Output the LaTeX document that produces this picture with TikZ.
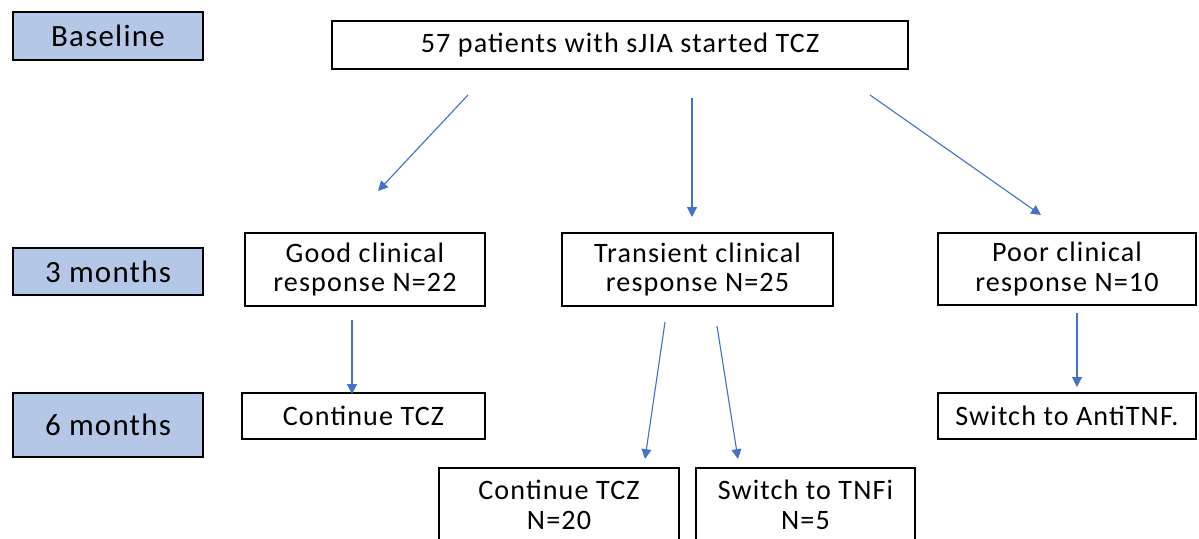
\documentclass[tikz,border=0pt]{standalone}
\usepackage{fontspec}
\setmainfont{Carlito}[LetterSpace=4]
\usepackage{tikz}
\usetikzlibrary{arrows.meta,positioning,calc}
\definecolor{stagefill}{RGB}{180, 199, 231}
\definecolor{arrowblue}{RGB}{68, 114, 196}
\tikzset{
    stagebox/.style={draw=black, line width=1.3pt, fill=stagefill, inner sep=0pt, font=\fontsize{22}{21}\selectfont},
    flowbox/.style={draw=black, line width=1.3pt, fill=white, inner sep=0pt, align=center, font=\fontsize{20}{21}\selectfont},
    flowarrow/.style={draw=arrowblue, line width=0.8pt, -{Triangle[width=7pt,length=7pt]}}
}

\begin{document}
\begin{tikzpicture}[x=0.025cm, y=-0.025cm]
    \useasboundingbox (0,0) rectangle (1199,539);
    \clip (0,0) rectangle (1199,539);
    % time points
    \node[stagebox, minimum width=4.75cm, minimum height=1.2cm] (base) at (108,36) {Baseline};
    \node[stagebox, minimum width=4.75cm, minimum height=1.18cm] (m3) at (108,271.5) {3 months};
    \node[stagebox, minimum width=4.75cm, minimum height=1.6cm] (m6) at (108,425) {6 months};
    % boxes
    \node[flowbox, minimum width=14.4cm, minimum height=1.2cm] (start) at (620,45) {57 patients with sJIA started TCZ};
    \node[flowbox, minimum width=6cm, minimum height=1.82cm] (good) at (365,269.5) {Good clinical\\response N=22};
    \node[flowbox, minimum width=6.78cm, minimum height=1.82cm] (trans) at (697.5,269.5) {Transient clinical\\response N=25};
    \node[flowbox, minimum width=6.45cm, minimum height=1.8cm] (poor) at (1067,269) {Poor clinical\\response N=10};
    \node[flowbox, minimum width=6.08cm, minimum height=1.15cm] (contG) at (363.5,416) {Continue TCZ};
    \node[flowbox, minimum width=6.45cm, minimum height=1.15cm] (switchP) at (1067,416) {Switch to AntiTNF.};
    \node[flowbox, minimum width=6cm, minimum height=1.85cm] (contT) at (559,505) {Continue TCZ\\N=20};
    \node[flowbox, minimum width=5.48cm, minimum height=1.85cm] (switchT) at (805.5,505) {Switch to TNFi\\N=5};
    % arrow ends
    \coordinate (a1s) at (468,95);  \coordinate (a1e) at (378,191);
    \coordinate (a2s) at (692,98);  \coordinate (a2e) at (692,217);
    \coordinate (a3s) at (870,95);  \coordinate (a3e) at (1041,215);
    \coordinate (a4s) at (352,320); \coordinate (a4e) at (352,394);
    \coordinate (a5s) at (665,322); \coordinate (a5e) at (645,459);
    \coordinate (a6s) at (717,326); \coordinate (a6e) at (738,459);
    \coordinate (a7s) at (1077,313); \coordinate (a7e) at (1077,387);
    \foreach \i in {1,...,7}
        \draw[flowarrow] (a\i s) -- (a\i e);
\end{tikzpicture}
\end{document}
